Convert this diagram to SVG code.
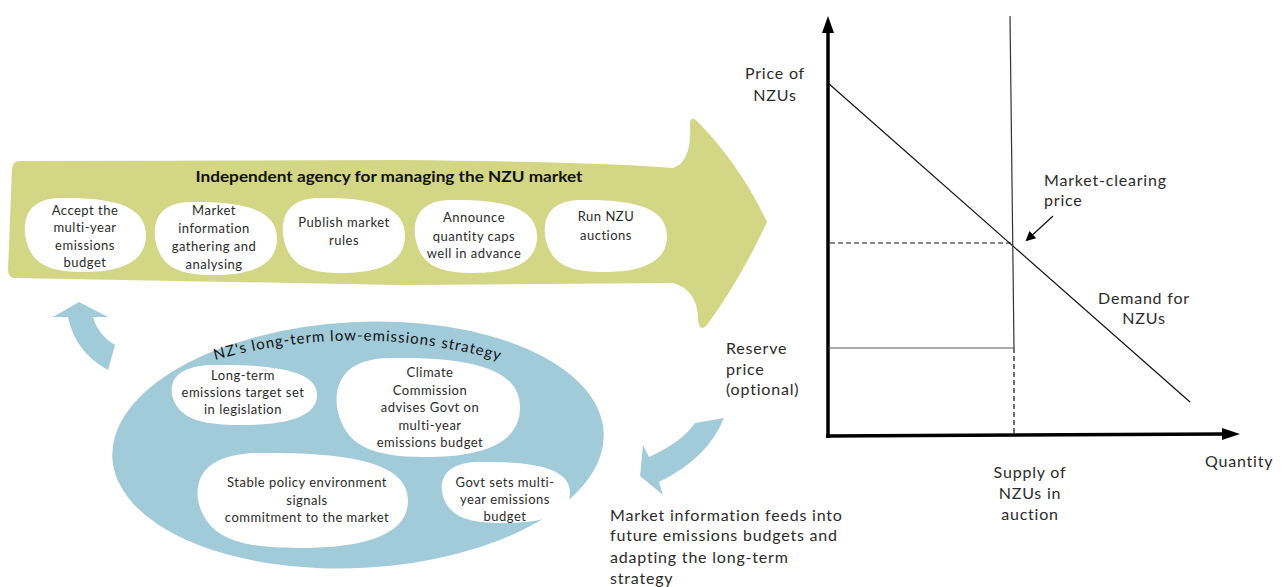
<svg xmlns="http://www.w3.org/2000/svg" xmlns:xlink="http://www.w3.org/1999/xlink" width="1285" height="587" viewBox="0 0 1285 587">
<style>
.box{font-family:Lato,"Noto Sans",sans-serif;font-size:13px;fill:#2b2b2b;text-anchor:middle;letter-spacing:0.5px}
.lbl{font-family:Lato,"Noto Sans",sans-serif;font-size:16px;fill:#2b2b2b;letter-spacing:0.8px}
.title{font-family:Lato,"Noto Sans",sans-serif;font-size:15px;font-weight:bold;fill:#111;text-anchor:middle}
.blob{fill:#fff}
.thin{stroke:#111;stroke-width:1.2;fill:none}
.dash{stroke:#111;stroke-width:1.2;stroke-dasharray:5 3;fill:none}
.axis{stroke:#000;stroke-width:3.5;fill:none}
</style>
<defs>
<path id="blob" d="M30 0 C75 -1 100 12 100 50 C100 90 75 100 48 100 C18 100 4 88 0 50 C-2 15 10 0 30 0 Z"/>
<marker id="ah" markerWidth="10" markerHeight="10" refX="8" refY="5" orient="auto" markerUnits="userSpaceOnUse">
<path d="M0 0 L10 5 L0 10 Z" fill="#000"/>
</marker>
</defs>

<g id="agency">
<path fill="#d3d685" d="M20 161 L400 160 Q600 162 673 168 Q692 162 690 125 Q690 114 698 122 Q740 165 767 222 Q740 280 707 325 Q700 333 698 320 Q698 290 673 283 L400 285 L14 278 Q8 277 8 270 L12 168 Q13 161 20 161 Z"/>
<text class="title" x="389" y="182" textLength="387" lengthAdjust="spacingAndGlyphs">Independent agency for managing the NZU market</text>
</g>

<g id="accept">
<use xlink:href="#blob" class="blob" transform="translate(25,198) scale(1.21,0.74)"/>
<text class="box"><tspan x="85" y="215">Accept the</tspan><tspan x="85" y="232">multi-year</tspan><tspan x="85" y="250">emissions</tspan><tspan x="85" y="267">budget</tspan></text>
</g>
<g id="gather">
<use xlink:href="#blob" class="blob" transform="translate(155,202) scale(1.22,0.73)"/>
<text class="box"><tspan x="214" y="215">Market</tspan><tspan x="214" y="233">information</tspan><tspan x="214" y="251">gathering and</tspan><tspan x="214" y="269">analysing</tspan></text>
</g>
<g id="publish">
<use xlink:href="#blob" class="blob" transform="translate(283,198) scale(1.22,0.75)"/>
<text class="box"><tspan x="344" y="227">Publish market</tspan><tspan x="344" y="245">rules</tspan></text>
</g>
<g id="announce">
<use xlink:href="#blob" class="blob" transform="translate(415,200) scale(1.22,0.73)"/>
<text class="box"><tspan x="474" y="222">Announce</tspan><tspan x="474" y="241">quantity caps</tspan><tspan x="474" y="258">well in advance</tspan></text>
</g>
<g id="auctions">
<use xlink:href="#blob" class="blob" transform="translate(545,200) scale(1.22,0.72)"/>
<text class="box"><tspan x="606" y="221">Run NZU</tspan><tspan x="606" y="240">auctions</tspan></text>
</g>

<g id="strategy">
<ellipse cx="358" cy="445" rx="246" ry="123" transform="rotate(-3 358 445)" fill="#a2cbda"/>
<path id="arcp" d="M215 360 Q360 320 505 362" fill="none"/>
<text class="lbl" style="font-size:15px;fill:#111;letter-spacing:0" textLength="288" lengthAdjust="spacing"><textPath xlink:href="#arcp">NZ's long-term low-emissions strategy</textPath></text>
</g>
<g id="target">
<use xlink:href="#blob" class="blob" transform="translate(172,365) scale(1.45,0.60)"/>
<text class="box"><tspan x="243" y="380">Long-term</tspan><tspan x="243" y="397">emissions target set</tspan><tspan x="243" y="414">in legislation</tspan></text>
</g>
<g id="commission">
<use xlink:href="#blob" class="blob" transform="translate(337,358) scale(1.83,0.99)"/>
<text class="box"><tspan x="430" y="377">Climate</tspan><tspan x="430" y="395">Commission</tspan><tspan x="430" y="412">advises Govt on</tspan><tspan x="430" y="430">multi-year</tspan><tspan x="430" y="447">emissions budget</tspan></text>
</g>
<g id="stable">
<use xlink:href="#blob" class="blob" transform="translate(198,453) scale(2.10,0.95)"/>
<text class="box"><tspan x="307" y="487">Stable policy environment</tspan><tspan x="307" y="505">signals</tspan><tspan x="307" y="522">commitment to the market</tspan></text>
</g>
<g id="govt">
<use xlink:href="#blob" class="blob" transform="translate(442,462) scale(1.28,0.61)"/>
<text class="box"><tspan x="505" y="487">Govt sets multi-</tspan><tspan x="505" y="504">year emissions</tspan><tspan x="505" y="521">budget</tspan></text>
</g>

<g id="connectors">
<path fill="#a2cbda" d="M53 317 L79 302 L108 317 L93 317 Q98 335 115 345 L108 370 Q75 352 68 317 Z"/>
<path fill="#a2cbda" d="M724 418 Q708 458 659 482 L663 495 L640 476 L643 445 L649 457 Q682 442 695 423 Z"/>
<line class="thin" x1="1053" y1="216" x2="1027" y2="240" marker-end="url(#ah)"/>
</g>

<g id="chart">
<line class="axis" x1="828" y1="438" x2="828" y2="30"/>
<polygon points="822,33 828,16 834,33" fill="#000"/>
<line class="axis" x1="826" y1="436" x2="1225" y2="434"/>
<polygon points="1222,428 1240,434 1222,440" fill="#000"/>
<line class="thin" x1="828" y1="83" x2="1190" y2="402"/>
<line x1="1010" y1="16" x2="1014" y2="348" stroke="#333" stroke-width="1.2"/>
<line class="dash" x1="1014" y1="348" x2="1014" y2="434"/>
<line x1="828" y1="348" x2="1014" y2="348" stroke="#555" stroke-width="1.2"/>
<line class="dash" x1="830" y1="243" x2="1013" y2="243"/>
</g>

<g id="labels">
<text class="lbl" text-anchor="middle"><tspan x="775" y="79">Price of</tspan><tspan x="775" y="101">NZUs</tspan></text>
<text class="lbl"><tspan x="1044" y="186">Market-clearing</tspan><tspan x="1044" y="206">price</tspan></text>
<text class="lbl" text-anchor="middle"><tspan x="1144" y="304">Demand for</tspan><tspan x="1144" y="324">NZUs</tspan></text>
<text class="lbl"><tspan x="726" y="354">Reserve</tspan><tspan x="726" y="375">price</tspan><tspan x="726" y="395">(optional)</tspan></text>
<text class="lbl" x="1205" y="467">Quantity</text>
<text class="lbl" text-anchor="middle"><tspan x="1030" y="478">Supply of</tspan><tspan x="1030" y="499">NZUs in</tspan><tspan x="1030" y="520">auction</tspan></text>
<text class="lbl"><tspan x="610" y="521">Market information feeds into</tspan><tspan x="610" y="541">future emissions budgets and</tspan><tspan x="610" y="563">adapting the long-term</tspan><tspan x="610" y="584">strategy</tspan></text>
</g>
</svg>
